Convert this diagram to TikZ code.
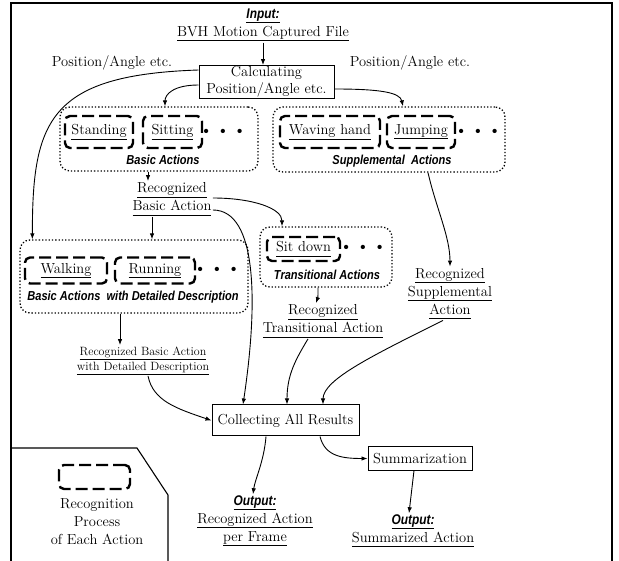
\documentclass[tikz,border=0pt]{standalone}
\usepackage{fontspec}
\newfontfamily\capfont[FakeStretch=0.85]{Liberation Sans}
\usetikzlibrary{arrows.meta}

\tikzset{
  every node/.style={font=\fontsize{14.5}{18}\selectfont, align=center, inner sep=1pt},
  procbox/.style={draw, line width=1pt, inner sep=1pt},
  actbox/.style={draw, line width=2.4pt, dash pattern=on 12pt off 5pt, rounded corners=5pt},
  groupbox/.style={draw, dotted, line width=1.3pt, rounded corners=10pt},
  grouplabel/.style={font=\fontsize{13}{15}\selectfont\capfont\bfseries\itshape},
  smalltext/.style={font=\fontsize{12}{15}\selectfont},
  dotrow/.style={font=\fontsize{19}{19}\selectfont},
}
\newcommand{\ulin}[1]{\leavevmode\vtop{\hbox{\vphantom{gy}#1}\kern1pt\hrule height0.9pt}}
\newcommand{\headlbl}[1]{\ulin{\fontsize{14}{16}\selectfont\capfont\bfseries\itshape #1}}
\newcommand{\moredots}{\textbullet\hspace{3pt}\textbullet\hspace{3pt}\textbullet}

\begin{document}
\begin{tikzpicture}[x=1pt, y=-1pt, >={Latex[length=6pt,width=4.5pt]}, line width=0.9pt]
	\useasboundingbox (0,0) rectangle (619,561);
	% frame and legend corner
	\draw[line width=1.3pt] (11,561) -- (11,3) -- (612,3) -- (612,561);
	\draw[line width=1.1pt] (11,448) -- (137,448) -- (168,495) -- (168,561);
	% input and first step
	\node (input) at (263,25) {\headlbl{Input:}\\\ulin{BVH Motion Captured File}};
	\node[procbox, minimum width=135pt, minimum height=30pt, font=\fontsize{14.5}{17}\selectfont] (calc) at (266.5,82) {Calculating\\Position/Angle etc.};
	\node (posleft) at (112,63) {Position/Angle etc.};
	\node (posright) at (410,63) {Position/Angle etc.};
	% basic actions
	\node[groupbox, minimum width=198pt, minimum height=64pt] (basic) at (159,139) {};
	\node[actbox, minimum width=68pt, minimum height=32pt] (standing) at (99,132) {\ulin{Standing}};
	\node[actbox, minimum width=59pt, minimum height=32pt] (sitting) at (172.5,132) {\ulin{Sitting}};
	\node[dotrow] (basicdots) at (223,133) {\moredots};
	\node[grouplabel] (basiccap) at (163,160) {Basic Actions};
	% supplemental actions
	\node[groupbox, minimum width=232pt, minimum height=65pt] (supp) at (389,139.5) {};
	\node[actbox, minimum width=100pt, minimum height=32pt] (waving) at (330,132) {\ulin{Waving hand}};
	\node[actbox, minimum width=68pt, minimum height=32pt] (jumping) at (421,132) {\ulin{Jumping}};
	\node[dotrow] (suppdots) at (478,133) {\moredots};
	\node[grouplabel] (suppcap) at (392,161) {Supplemental~~Actions};
	% detailed basic actions
	\node[groupbox, minimum width=228pt, minimum height=73pt] (detail) at (134,276.5) {};
	\node[actbox, minimum width=82pt, minimum height=26pt] (walking) at (66,270.5) {\ulin{Walking}};
	\node[actbox, minimum width=80pt, minimum height=26pt] (running) at (155,270.5) {\ulin{Running}};
	\node[dotrow] (detaildots) at (217,271) {\moredots};
	\node[grouplabel] (detailcap) at (133,297) {Basic Actions~~with Detailed Description};
	% transitional actions
	\node[groupbox, minimum width=132pt, minimum height=60pt] (trans) at (326,257) {};
	\node[actbox, minimum width=73pt, minimum height=24pt] (sitdown) at (303.5,249) {\ulin{Sit down}};
	\node[dotrow] (transdots) at (363,249) {\moredots};
	\node[grouplabel] (transcap) at (327,275) {Transitional Actions};
	% recognized results
	\node (recbasic) at (172,199) {\ulin{Recognized}\\\ulin{Basic Action}};
	\node (recsupp) at (450,293.5) {\ulin{Recognized}\\\ulin{Supplemental}\\\ulin{Action}};
	\node (rectrans) at (323,321) {\ulin{Recognized}\\\ulin{Transitional Action}};
	\node[smalltext] (recdetail) at (143,360.5) {\ulin{Recognized Basic Action}\\\ulin{with Detailed Description}};
	% collecting and output
	\node[procbox, minimum width=147pt, minimum height=31pt] (collect) at (285.5,420.5) {Collecting All Results};
	\node[procbox, minimum width=104pt, minimum height=23pt] (summ) at (420,458.5) {Summarization};
	\node (outframe) at (255,521) {\headlbl{Output:}\\\ulin{Recognized Action}\\\ulin{per Frame}};
	\node (outsumm) at (413,531) {\headlbl{Output:}\\\ulin{Summarized Action}};
	% legend
	\node[actbox, minimum width=71pt, minimum height=24pt] (legendbox) at (94.5,477) {};
	\node (legendtext) at (97,522) {Recognition\\Process\\of Each Action};
	% connectors
	\draw[->] (input.south) -- (input.south |- calc.north);
	\draw[->] ([yshift=12pt]calc.west) .. controls +(-150,5) and +(0,-118) .. ([xshift=13pt]detail.north west);
	\draw[->] ([yshift=-3pt]calc.west) .. controls +(-25,0) and +(0,-12) .. ([xshift=6pt]basic.north);
	\draw[->] ([yshift=-7pt]calc.east) .. controls +(45,0) and +(-3,-14) .. ([xshift=14pt]supp.north);
	\draw[->] ([xshift=-11pt]basic.south) -- ([xshift=-11pt]basic.south |- recbasic.north);
	\draw[->] ([yshift=1pt]recbasic.east) .. controls +(40,0) and +(0,-18) .. ([xshift=-44pt]trans.north);
	\draw[->] ([yshift=-11pt]recbasic.east) .. controls +(45,0) and +(15,-100) .. ([xshift=-42.5pt]collect.north);
	\draw[->] ([xshift=-20pt]recbasic.south) -- ([xshift=-20pt]recbasic.south |- detail.north);
	\draw[->] ([xshift=39pt]supp.south) .. controls +(8,35) and +(0,-30) .. (recsupp.north);
	\draw[->] ([xshift=-8pt]trans.south) .. controls +(0,6) and +(2,-6) .. ([xshift=-7pt]rectrans.north);
	\draw[->] ([xshift=-14pt]detail.south) -- ([xshift=-14pt]detail.south |- recdetail.north);
	\draw[->] ([xshift=5pt]recdetail.south) .. controls +(5,25) and +(-35,-12) .. (collect.west);
	\draw[->] ([xshift=-15pt]rectrans.south) .. controls +(-12,20) and +(0,-30) .. ([xshift=1.5pt]collect.north);
	\draw[->] ([xshift=-7pt]recsupp.south) .. controls +(-70,35) and +(0,-25) .. ([xshift=37.5pt]collect.north);
	\draw[->] ([xshift=-19.5pt]collect.south) .. controls +(-2,25) and +(2,-15) .. ([xshift=-2pt]outframe.north);
	\draw[->] ([xshift=34.5pt]collect.south) .. controls +(5,20) and +(-25,0) .. (summ.west);
	\draw[->] ([xshift=-6pt]summ.south) -- ([xshift=-4pt]outsumm.north);
\end{tikzpicture}
\end{document}
